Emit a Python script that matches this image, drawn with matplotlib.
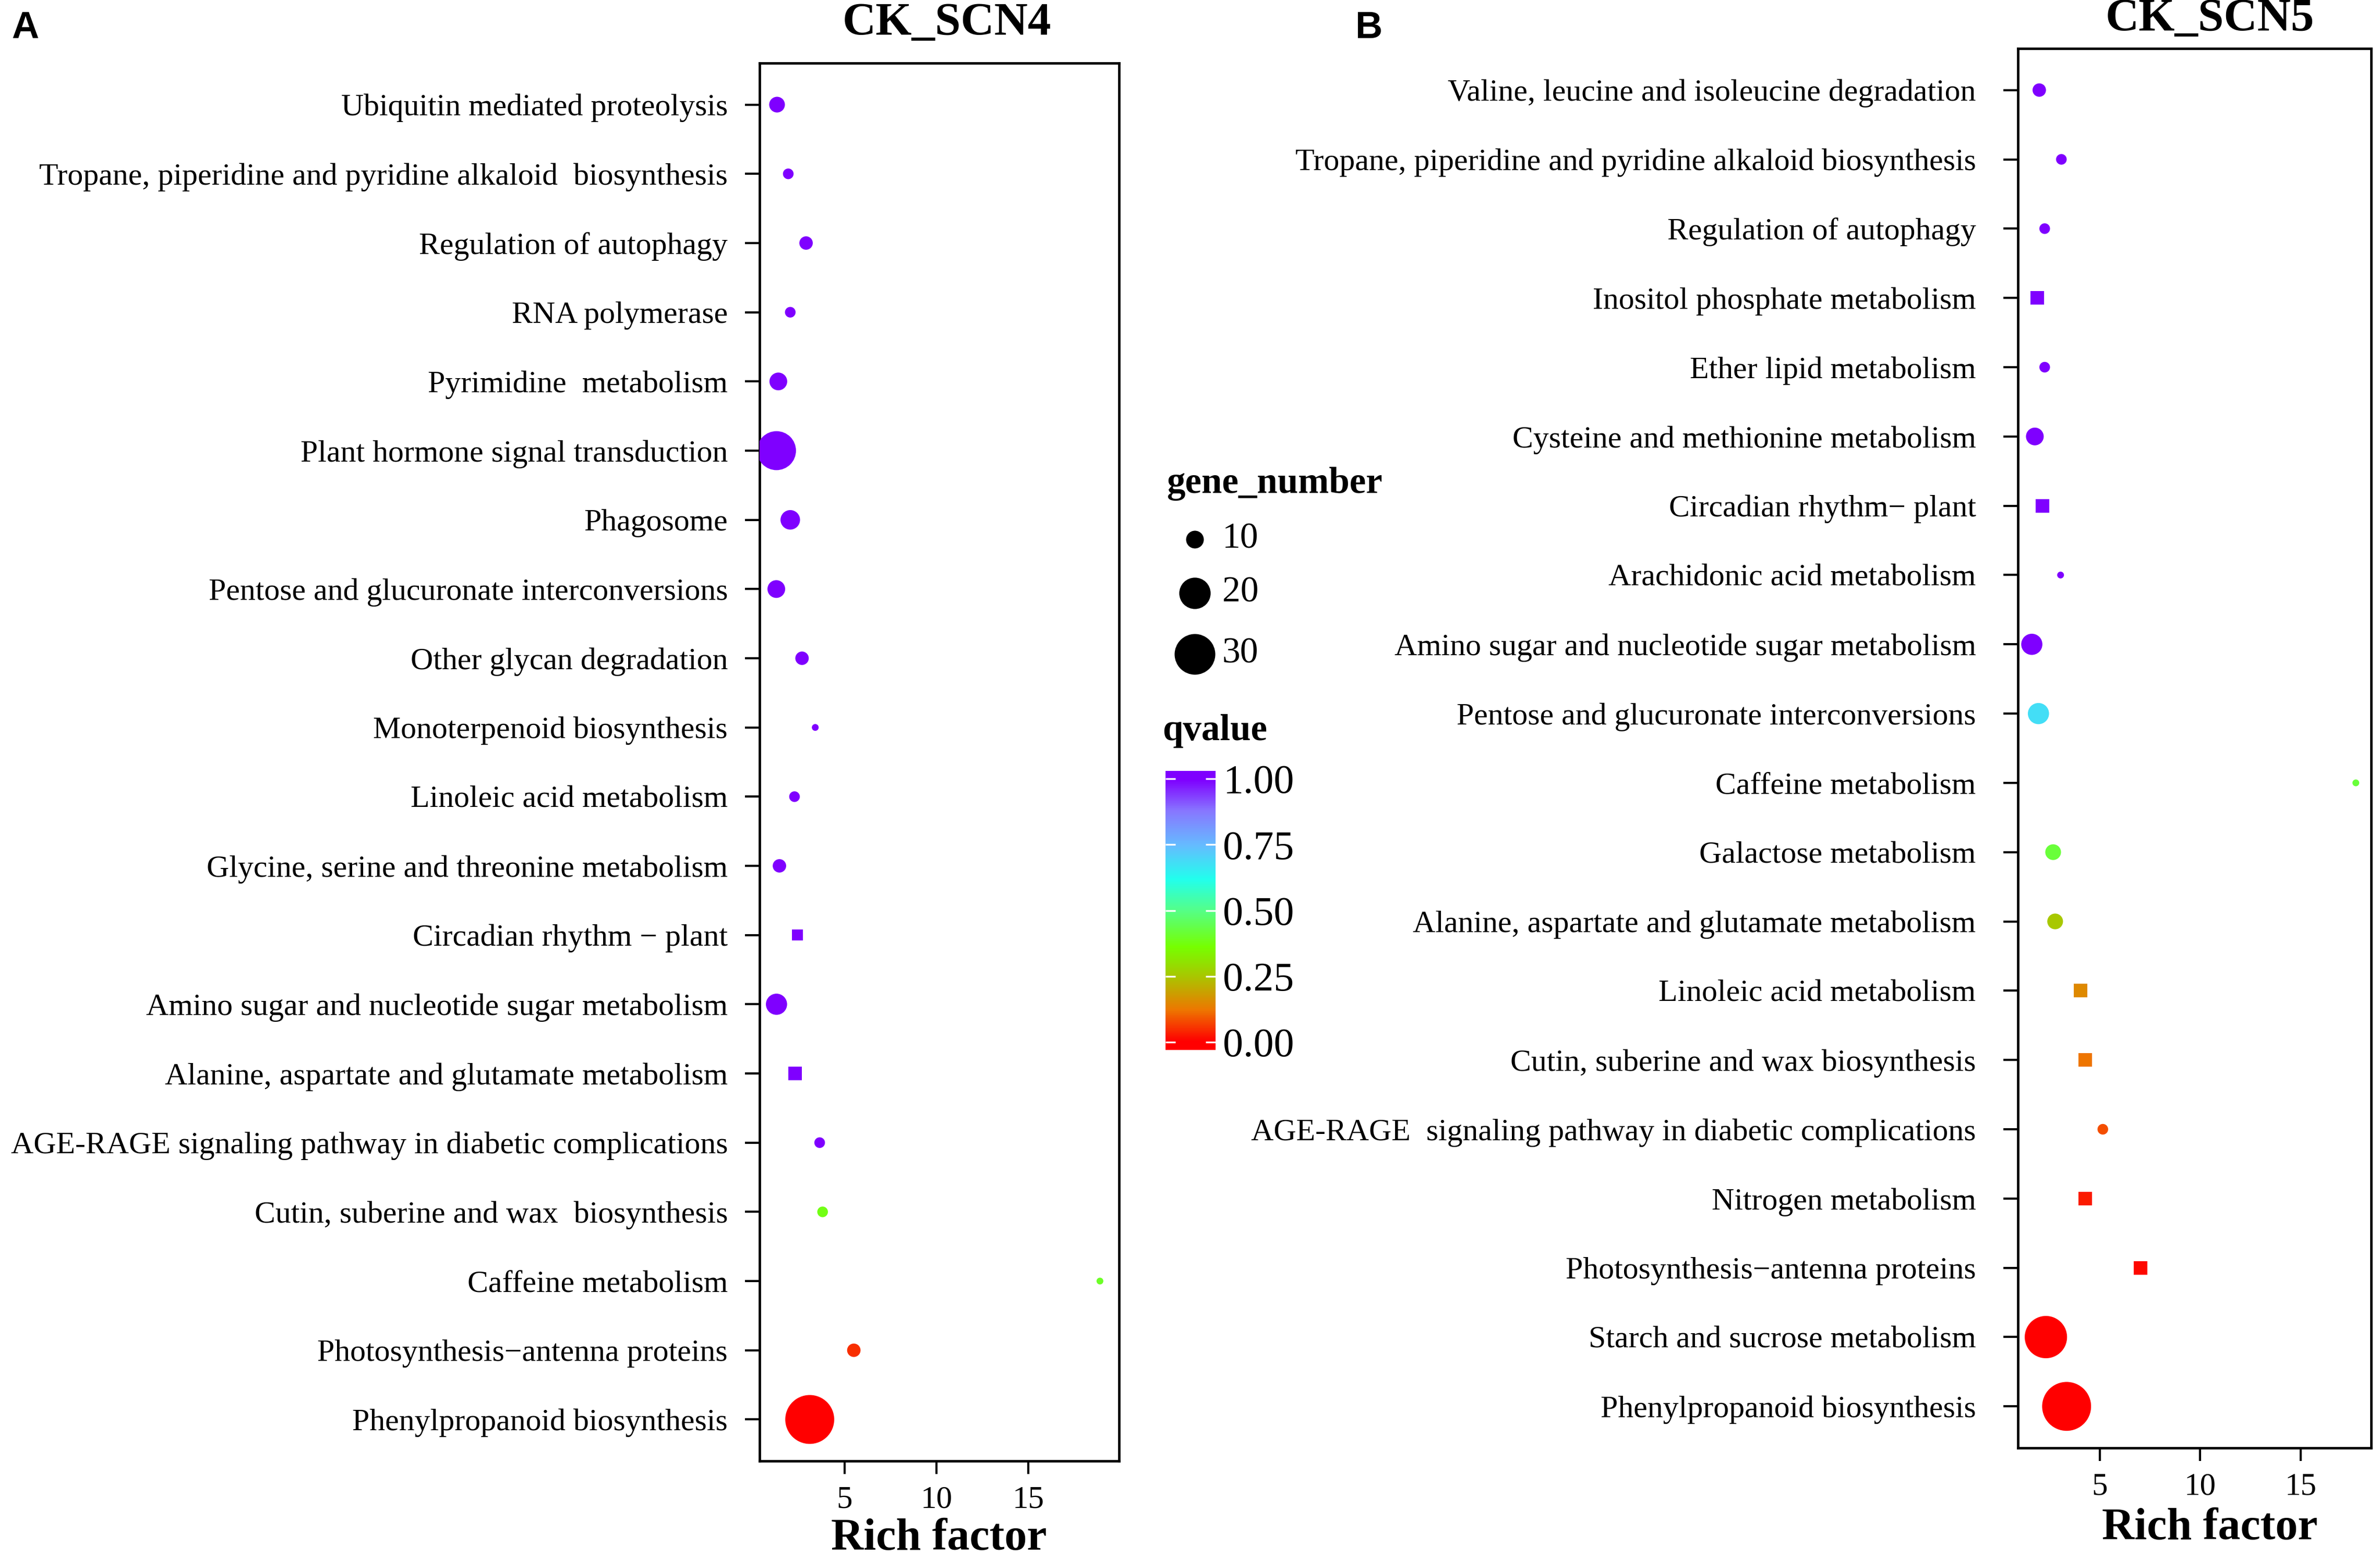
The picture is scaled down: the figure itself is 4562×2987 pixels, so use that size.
import numpy as np
import matplotlib
matplotlib.use('Agg')
import matplotlib.pyplot as plt
from matplotlib.colors import LinearSegmentedColormap, Normalize

W, H = 4562, 2987
DPI = 200
plt.rcParams['font.family'] = ['Liberation Serif', 'DejaVu Serif']

# ---- panel A : CK_SCN4 (top to bottom) ----
terms_a = [
    "Ubiquitin mediated proteolysis",
    "Tropane, piperidine and pyridine alkaloid  biosynthesis",
    "Regulation of autophagy",
    "RNA polymerase",
    "Pyrimidine  metabolism",
    "Plant hormone signal transduction",
    "Phagosome",
    "Pentose and glucuronate interconversions",
    "Other glycan degradation",
    "Monoterpenoid biosynthesis",
    "Linoleic acid metabolism",
    "Glycine, serine and threonine metabolism",
    "Circadian rhythm \u2212 plant",
    "Amino sugar and nucleotide sugar metabolism",
    "Alanine, aspartate and glutamate metabolism",
    "AGE-RAGE signaling pathway in diabetic complications",
    "Cutin, suberine and wax  biosynthesis",
    "Caffeine metabolism",
    "Photosynthesis\u2212antenna proteins",
    "Phenylpropanoid biosynthesis",
]
rich_a = [1.32, 1.93, 2.9, 2.04, 1.39, 1.29, 2.04, 1.28, 2.68, 3.4,
          2.27, 1.45, 2.43, 1.29, 2.3, 3.64, 3.8, 18.9, 5.5, 3.1]
genes_a = [9, 7, 8, 7, 10, 28, 11, 10, 8, 6,
           7, 8, 7, 12, 8, 7, 7, 6, 8, 41]
q_a = [1.0, 1.0, 1.0, 1.0, 1.0, 1.0, 1.0, 1.0, 1.0, 1.0,
       1.0, 1.0, 1.0, 1.0, 1.0, 1.0, 0.38, 0.40, 0.05, 0.0]
squares_a = ["Circadian rhythm \u2212 plant",
             "Alanine, aspartate and glutamate metabolism"]

# ---- panel B : CK_SCN5 (top to bottom) ----
terms_b = [
    "Valine, leucine and isoleucine degradation",
    "Tropane, piperidine and pyridine alkaloid biosynthesis",
    "Regulation of autophagy",
    "Inositol phosphate metabolism",
    "Ether lipid metabolism",
    "Cysteine and methionine metabolism",
    "Circadian rhythm\u2212 plant",
    "Arachidonic acid metabolism",
    "Amino sugar and nucleotide sugar metabolism",
    "Pentose and glucuronate interconversions",
    "Caffeine metabolism",
    "Galactose metabolism",
    "Alanine, aspartate and glutamate metabolism",
    "Linoleic acid metabolism",
    "Cutin, suberine and wax biosynthesis",
    "AGE-RAGE  signaling pathway in diabetic complications",
    "Nitrogen metabolism",
    "Photosynthesis\u2212antenna proteins",
    "Starch and sucrose metabolism",
    "Phenylpropanoid biosynthesis",
]
rich_b = [2.0, 3.1, 2.27, 1.9, 2.27, 1.78, 2.15, 3.06, 1.63, 1.96,
          17.74, 2.69, 2.79, 4.06, 4.28, 5.16, 4.28, 7.03, 2.33, 3.36]
genes_b = [8, 7, 7, 8, 7, 10, 8, 6, 12, 12,
           6, 9, 9, 8, 8, 7, 8, 8, 32, 41]
q_b = [1.0, 1.0, 1.0, 1.0, 1.0, 1.0, 1.0, 1.0, 1.0, 0.68,
       0.42, 0.42, 0.25, 0.15, 0.12, 0.08, 0.03, 0.01, 0.0, 0.0]
squares_b = ["Inositol phosphate metabolism", "Circadian rhythm\u2212 plant",
             "Linoleic acid metabolism", "Cutin, suberine and wax biosynthesis",
             "Nitrogen metabolism", "Photosynthesis\u2212antenna proteins"]

legend_genes = [10, 20, 30]
q_ticks = [0.0, 0.25, 0.5, 0.75, 1.0]

# colour scale (red -> violet)
cmap = LinearSegmentedColormap.from_list("qv", [
    (0.00, "#FF0000"), (0.12, "#EE7700"), (0.25, "#A8C800"),
    (0.36, "#77FF00"), (0.50, "#55FF88"), (0.62, "#22FFEE"),
    (0.75, "#66BBFF"), (0.88, "#8877FF"), (1.00, "#7F00FF")])
norm = Normalize(0, 1)


def dot_size(n):
    # area grows linearly with gene number (10 -> 34px, 30 -> 78px wide)
    area_px = 34 ** 2 + (np.asarray(n, float) - 10) * (78 ** 2 - 34 ** 2) / 20
    d_pt = np.sqrt(np.clip(area_px, 140, None)) * 72 / DPI
    return d_pt ** 2


def px(x, y):
    return x / W, 1 - y / H


fig = plt.figure(figsize=(W / DPI, H / DPI), dpi=DPI)


def draw_panel(rect, terms, rich, genes, q, squares, xlim, pad):
    ax = fig.add_axes(rect)
    y = np.arange(len(terms), 0, -1)
    rich = np.array(rich)
    genes = np.array(genes)
    q = np.array(q)
    sq = np.array([t in squares for t in terms])
    for mask, mk in [(~sq, 'o'), (sq, 's')]:
        ax.scatter(rich[mask], y[mask], s=dot_size(genes[mask]), c=q[mask],
                   cmap=cmap, norm=norm, marker=mk, linewidths=0, zorder=3)
    ax.set_yticks(y)
    ax.set_yticklabels(terms, fontsize=21.5)
    ax.set_ylim(0.4, len(terms) + 0.6)
    ax.set_xlim(*xlim)
    ax.set_xticks([5, 10, 15])
    ax.tick_params(axis='x', labelsize=22, length=9, width=1.5, pad=8)
    ax.tick_params(axis='y', length=10, width=1.5, pad=pad)
    for s in ax.spines.values():
        s.set_linewidth(1.7)
    return ax


draw_panel([1456 / W, 1 - 2801 / H, 689 / W, 2680 / H],
           terms_a, rich_a, genes_a, q_a, squares_a, (0.37, 19.94), 12)
draw_panel([3868 / W, 1 - 2776 / H, 677 / W, 2683 / H],
           terms_b, rich_b, genes_b, q_b, squares_b, (0.94, 18.5), 19)

# titles, axis labels, panel letters
fig.text(*px(1815, 44), "CK_SCN4", fontsize=32, fontweight='bold', ha='center', va='center')
fig.text(*px(4236, 36), "CK_SCN5", fontsize=32, fontweight='bold', ha='center', va='center')
fig.text(*px(1800, 2950), "Rich factor", fontsize=31, fontweight='bold', ha='center', va='center')
fig.text(*px(4236, 2930), "Rich factor", fontsize=31, fontweight='bold', ha='center', va='center')
fig.text(*px(22, 54), "A", fontsize=26, fontweight='bold', family='Liberation Sans',
         ha='left', va='center')
fig.text(*px(2597, 54), "B", fontsize=26, fontweight='bold', family='Liberation Sans',
         ha='left', va='center')

# gene_number legend
leg = fig.add_axes([0, 0, 1, 1], facecolor='none')
leg.set_xlim(0, W)
leg.set_ylim(H, 0)
leg.axis('off')
fig.text(*px(2236, 928), "gene_number", fontsize=25.5, fontweight='bold', ha='left', va='center')
for g, yy in zip(legend_genes, [1034, 1137, 1254]):
    leg.scatter([2290], [yy], s=dot_size(g), color='black', linewidths=0)
    fig.text(*px(2343, yy), str(g), fontsize=25, ha='left', va='center')

# qvalue colour bar
fig.text(*px(2228, 1402), "qvalue", fontsize=25.5, fontweight='bold', ha='left', va='center')
cax = fig.add_axes([2234 / W, 1 - 2013 / H, 96 / W, 535 / H])
grad = np.linspace(-0.03, 1.03, 400)[:, None]
cax.imshow(grad, aspect='auto', cmap=cmap, norm=norm, origin='lower',
           extent=[0, 1, -0.03, 1.03])
cax.set_xlim(0, 1)
cax.set_ylim(-0.03, 1.03)
cax.set_xticks([])
cax.set_yticks(q_ticks)
cax.set_yticklabels([f"{v:.2f}" for v in q_ticks], fontsize=28)
cax.yaxis.tick_right()
cax.tick_params(axis='y', direction='in', left=True, right=True, color='white',
                length=7, width=1.2, pad=5)
for s in cax.spines.values():
    s.set_visible(False)

fig.savefig("out.png", dpi=DPI)
